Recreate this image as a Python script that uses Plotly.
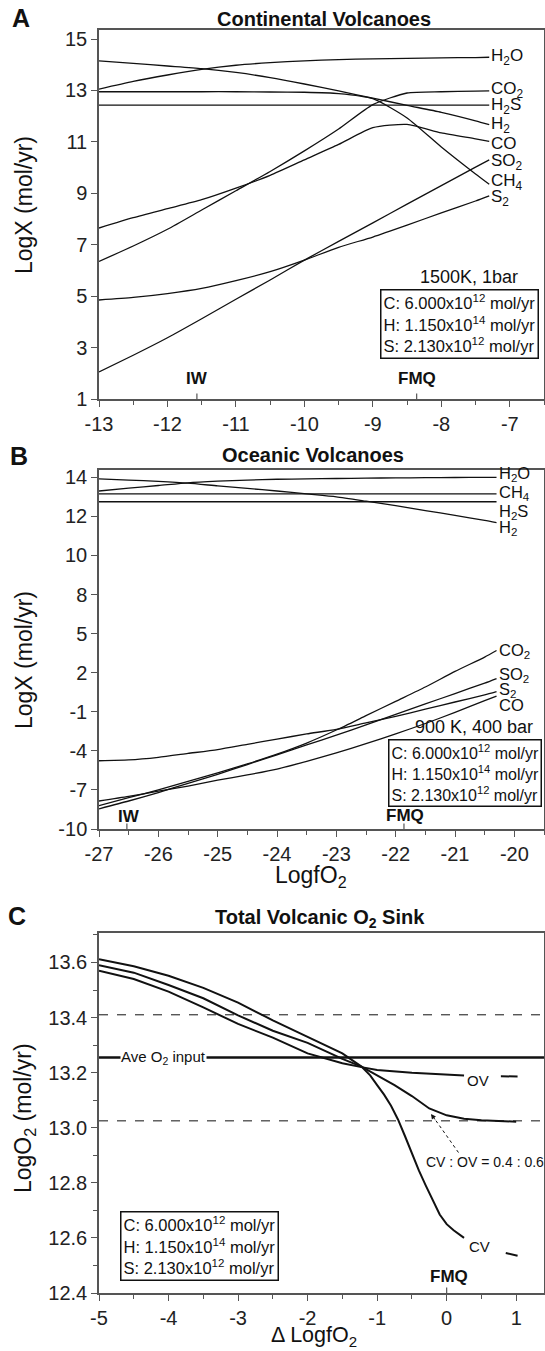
import plotly.graph_objects as go

FONT = "Liberation Sans, Arial, Helvetica, sans-serif"
W, H = 545, 1351
INK = "#111111"
AX = "#555555"

# ---------------- Panel A: Continental volcanoes (LogX vs LogfO2) ----------------
xa = [-13, -12.5, -12, -11.5, -11, -10.5, -10, -9.5, -9, -8.5, -8, -7.5, -7.3]
a_h2o = [13.05, 13.35, 13.6, 13.82, 13.98, 14.08, 14.15, 14.2, 14.23, 14.25, 14.27, 14.28, 14.29]
a_h2 = [14.15, 14.05, 13.95, 13.85, 13.7, 13.5, 13.25, 12.98, 12.7, 12.42, 12.15, 11.82, 11.67]
a_ch4 = [12.95, 12.95, 12.95, 12.95, 12.95, 12.94, 12.93, 12.88, 12.68, 11.93, 10.8, 9.75, 9.35]
a_h2s = [12.43, 12.43, 12.43, 12.43, 12.43, 12.43, 12.43, 12.43, 12.43, 12.43, 12.43, 12.43, 12.43]
a_co2 = [6.35, 6.95, 7.6, 8.35, 9.1, 9.85, 10.65, 11.5, 12.45, 12.9, 12.95, 12.97, 12.98]
a_co = [7.65, 8.05, 8.4, 8.75, 9.2, 9.7, 10.3, 10.9, 11.55, 11.68, 11.35, 11.12, 11.02]
a_so2 = [2.05, 2.7, 3.38, 4.12, 4.88, 5.63, 6.4, 7.13, 7.85, 8.58, 9.3, 10.02, 10.3]
a_s2 = [4.85, 4.95, 5.1, 5.3, 5.6, 5.95, 6.4, 6.9, 7.3, 7.76, 8.24, 8.7, 8.9]
a_series = [a_h2o, a_h2, a_ch4, a_h2s, a_co2, a_co, a_so2, a_s2]
a_labels = ["H<sub>2</sub>O", "CO<sub>2</sub>", "H<sub>2</sub>S", "H<sub>2</sub>", "CO",
            "SO<sub>2</sub>", "CH<sub>4</sub>", "S<sub>2</sub>"]
a_label_y = [14.3, 13.0, 12.4, 11.65, 10.95, 10.2, 9.45, 8.8]
a_xticks = [-13, -12, -11, -10, -9, -8, -7]
a_yticks = [1, 3, 5, 7, 9, 11, 13, 15]

# ---------------- Panel B: Oceanic volcanoes ----------------
xb = [-27, -26.5, -26, -25.5, -25, -24.5, -24, -23.5, -23, -22.5, -22, -21.5, -21, -20.5, -20.3]
b_h2o = [13.3, 13.45, 13.58, 13.72, 13.8, 13.86, 13.9, 13.92, 13.94, 13.96, 13.97, 13.98, 13.99, 14.0, 14.0]
b_h2 = [13.92, 13.86, 13.79, 13.7, 13.56, 13.43, 13.3, 13.15, 13.0, 12.78, 12.55, 12.3, 12.05, 11.8, 11.68]
b_ch4 = [13.15, 13.15, 13.15, 13.15, 13.15, 13.15, 13.15, 13.15, 13.15, 13.15, 13.15, 13.15, 13.15, 13.15, 13.15]
b_h2s = [12.75, 12.75, 12.75, 12.75, 12.75, 12.75, 12.75, 12.75, 12.75, 12.75, 12.75, 12.75, 12.75, 12.75, 12.75]
b_co2 = [-8.2, -7.6, -7.0, -6.35, -5.7, -5.0, -4.25, -3.4, -2.4, -1.3, -0.2, 0.9, 2.1, 3.2, 3.7]
b_so2 = [-8.45, -7.85, -7.2, -6.5, -5.8, -5.05, -4.3, -3.55, -2.8, -2.0, -1.2, -0.4, 0.4, 1.2, 1.55]
b_s2 = [-4.76, -4.7, -4.5, -4.2, -3.9, -3.5, -3.1, -2.7, -2.35, -1.85, -1.35, -0.8, -0.25, 0.3, 0.55]
b_co = [-7.85, -7.5, -7.1, -6.7, -6.25, -5.85, -5.4, -4.8, -4.15, -3.45, -2.7, -1.9, -1.05, -0.15, 0.2]
b_series = [b_h2o, b_h2, b_ch4, b_h2s, b_co2, b_so2, b_s2, b_co]
b_labels = ["H<sub>2</sub>O", "CH<sub>4</sub>", "H<sub>2</sub>S", "H<sub>2</sub>",
            "CO<sub>2</sub>", "SO<sub>2</sub>", "S<sub>2</sub>", "CO"]
b_label_y = [14.15, 13.2, 12.2, 11.4, 3.7, 1.85, 0.7, -0.45]
b_xticks = [-27, -26, -25, -24, -23, -22, -21, -20]
b_ytick_vals = [-10, -7, -4, -1, 2, 5, 8, 10, 12, 14]   # broken axis: evenly spaced labels


def b_pos(v):
    """Position on panel B's segmented y axis (3 units/tick below 8, 2 units/tick above)."""
    if v is None:
        return None
    return (v + 10) / 3.0 if v <= 8 else 6 + (v - 8) / 2.0


# ---------------- Panel C: Total volcanic O2 sink ----------------
xc_left = [-5, -4.5, -4, -3.5, -3, -2.5, -2, -1.5, -1.225]
c_cv_left = [13.612, 13.586, 13.552, 13.508, 13.454, 13.39, 13.33, 13.27, 13.222]
c_mix_left = [13.59, 13.563, 13.518, 13.47, 13.408, 13.352, 13.308, 13.25, 13.222]
c_ov_left = [13.57, 13.54, 13.494, 13.437, 13.377, 13.327, 13.27, 13.234, 13.22]
xc_cv_right = [-1.1, -1.0, -0.9, -0.8, -0.7, -0.6, -0.5, -0.4, -0.3, -0.2, -0.1, 0.0, 0.1, 0.25, None, 0.85, 1.02]
c_cv_right = [13.19, 13.155, 13.12, 13.08, 13.03, 12.97, 12.905, 12.845, 12.79, 12.735, 12.685, 12.65, 12.628, 12.6, None, 12.545, 12.535]
xc_mix_right = [-1.0, -0.75, -0.5, -0.25, 0.0, 0.25, 0.5, 0.75, 1.0]
c_mix_right = [13.19, 13.155, 13.115, 13.07, 13.045, 13.033, 13.027, 13.024, 13.022]
xc_ov_right = [-1.0, -0.5, 0.0, 0.25, None, 0.78, 1.02]
c_ov_right = [13.21, 13.2, 13.193, 13.19, None, 13.187, 13.186]
c_ave_input = 13.255
c_dashed = [13.41, 13.025]
c_xticks = [-5, -4, -3, -2, -1, 0, 1]
c_yticks = [12.4, 12.6, 12.8, 13.0, 13.2, 13.4, 13.6]

# ---------------- layout geometry (pixels) ----------------
LEFT, RIGHT = 99, 544
PANELS = {"A": (29.5, 399), "B": (469.5, 829), "C": (933, 1293)}


def ydom(top, bot):
    return [1 - bot / H, 1 - top / H]


def hyph(vals):
    return [str(v).replace("−", "-") for v in vals]


fig = go.Figure()
line_a = dict(color=INK, width=1.3)

for ys in a_series:
    fig.add_trace(go.Scatter(x=xa, y=ys, mode="lines", line=dict(shape="spline", smoothing=0.6, **line_a),
                             xaxis="x", yaxis="y", showlegend=False, hoverinfo="skip"))
for ys in b_series:
    fig.add_trace(go.Scatter(x=xb, y=[b_pos(v) for v in ys], mode="lines",
                             line=dict(shape="spline", smoothing=0.6, **line_a),
                             xaxis="x2", yaxis="y2", showlegend=False, hoverinfo="skip"))

line_c = dict(color=INK, width=2)
fig.add_trace(go.Scatter(x=xc_left + xc_cv_right, y=c_cv_left + c_cv_right, mode="lines", line=line_c,
                         xaxis="x3", yaxis="y3", showlegend=False, connectgaps=False, hoverinfo="skip"))
fig.add_trace(go.Scatter(x=xc_left + xc_mix_right, y=c_mix_left + c_mix_right, mode="lines", line=line_c,
                         xaxis="x3", yaxis="y3", showlegend=False, hoverinfo="skip"))
fig.add_trace(go.Scatter(x=xc_left + xc_ov_right, y=c_ov_left + c_ov_right, mode="lines", line=line_c,
                         xaxis="x3", yaxis="y3", showlegend=False, connectgaps=False, hoverinfo="skip"))

tickfont = dict(family=FONT, size=20, color="#222")
common = dict(showline=True, linecolor=AX, linewidth=1.5, mirror=True, ticks="outside", ticklen=6,
              tickwidth=1.3, tickcolor=AX, showgrid=False, zeroline=False, tickfont=tickfont)
minor_x = dict(dtick=0.5, ticks="outside", ticklen=4, tickwidth=1.2, tickcolor=AX, showgrid=False)

fig.update_layout(
    width=W, height=H, margin=dict(l=0, r=0, t=0, b=0, autoexpand=False),
    paper_bgcolor="white", plot_bgcolor="white", showlegend=False,
    font=dict(family=FONT, color=INK),
    xaxis=dict(domain=[LEFT / W, RIGHT / W], range=[-13, -6.5], tickvals=a_xticks, ticktext=hyph(a_xticks),
               minor=dict(tick0=-13, **minor_x), anchor="y", **common),
    yaxis=dict(domain=ydom(*PANELS["A"]), range=[1, 15.37], tickvals=a_yticks, anchor="x", **common),
    xaxis2=dict(domain=[LEFT / W, RIGHT / W], range=[-27, -19.5], tickvals=b_xticks, ticktext=hyph(b_xticks),
                minor=dict(tick0=-27, **minor_x), anchor="y2", **common),
    yaxis2=dict(domain=ydom(*PANELS["B"]), range=[0, 9.2], tickvals=[b_pos(v) for v in b_ytick_vals],
                ticktext=hyph(b_ytick_vals), anchor="x2", **common),
    xaxis3=dict(domain=[LEFT / W, RIGHT / W], range=[-5, 1.4], tickvals=c_xticks, ticktext=hyph(c_xticks),
                minor=dict(tick0=-5, **minor_x), anchor="y3", **common),
    yaxis3=dict(domain=ydom(*PANELS["C"]), range=[12.4, 13.707], tickvals=c_yticks,
                ticktext=[f"{v:.1f}" for v in c_yticks],
                minor=dict(tick0=12.4, dtick=0.1, ticks="outside", ticklen=4, tickwidth=1.2, tickcolor=AX,
                           showgrid=False), anchor="x3", **common),
)

ann = []
shapes = []


def txt(x, y, text, size, xref="paper", yref="paper", bold=False, **kw):
    t = f"<b>{text}</b>" if bold else text
    d = dict(x=x, y=y, xref=xref, yref=yref, text=t, showarrow=False, xanchor="center", yanchor="middle",
             font=dict(family=FONT, size=size, color=INK))
    d.update(kw)
    ann.append(d)


def px(xpix):
    return xpix / W


def py(ypix):
    return 1 - ypix / H


# Panel letters and titles
txt(px(21), py(18), "A", 25, bold=True)
txt(px(19), py(456), "B", 25, bold=True)
txt(px(17), py(916), "C", 25, bold=True)
txt(px(324), py(19), "Continental Volcanoes", 20, bold=True)
txt(px(313), py(455), "Oceanic Volcanoes", 20, bold=True)
txt(px(320), py(918), "Total Volcanic O<sub>2</sub> Sink", 20, bold=True)

# Axis titles
txt(px(24), py(205), "LogX (mol/yr)", 23, textangle=-90)
txt(px(24), py(660), "LogX (mol/yr)", 23, textangle=-90)
txt(px(24), py(1118), "LogO<sub>2</sub> (mol/yr)", 23, textangle=-90)
txt(px(311), py(876), "LogfO<sub>2</sub>", 23)
txt(px(314), py(1336), "Δ LogfO<sub>2</sub>", 21.5)

# Species labels
for lab, yv in zip(a_labels, a_label_y):
    txt(-7.3, yv, lab, 17, xref="x", yref="y", xanchor="left")
for lab, yv in zip(b_labels, b_label_y):
    txt(-20.3, b_pos(yv), lab, 16.5, xref="x2", yref="y2", xanchor="left")

box_text = ("C: 6.000x10<sup>12</sup> mol/yr<br>H: 1.150x10<sup>14</sup> mol/yr<br>"
            "S: 2.130x10<sup>12</sup> mol/yr")
boxstyle = dict(align="left", bordercolor=INK, borderwidth=1.5, borderpad=2, bgcolor="white")

# Panel A notes
txt(-7.6, 5.76, "1500K, 1bar", 18, xref="x", yref="y")
txt(-6.58, 3.9, box_text, 16.5, xref="x", yref="y", xanchor="right", **boxstyle)
txt(-11.57, 1.8, "IW", 17, xref="x", yref="y", bold=True)
txt(-8.36, 1.8, "FMQ", 17, xref="x", yref="y", bold=True)
for xv in (-11.57, -8.36):
    shapes.append(dict(type="line", xref="x", yref="y domain", x0=xv, x1=xv, y0=0, y1=0.015,
                       line=dict(color=AX, width=1.2)))

# Panel B notes
txt(-20.68, b_pos(-2.2), "900 K, 400 bar", 18, xref="x2", yref="y2")
txt(-19.53, b_pos(-5.7), box_text, 16, xref="x2", yref="y2", xanchor="right", **boxstyle)
txt(-26.5, b_pos(-9.05), "IW", 17, xref="x2", yref="y2", bold=True)
txt(-21.85, b_pos(-9.0), "FMQ", 17, xref="x2", yref="y2", bold=True)
for xv in (-26.53, -21.86):
    shapes.append(dict(type="line", xref="x2", yref="y2 domain", x0=xv, x1=xv, y0=0, y1=0.015,
                       line=dict(color=AX, width=1.2)))

# Panel C notes
for yv in c_dashed:
    shapes.append(dict(type="line", xref="x3 domain", yref="y3", x0=0, x1=1, y0=yv, y1=yv,
                       line=dict(color=INK, width=1, dash="dash")))
shapes.append(dict(type="line", xref="x3 domain", yref="y3", x0=0, x1=1, y0=c_ave_input, y1=c_ave_input,
                   line=dict(color=INK, width=2.5)))
txt(-4.07, c_ave_input, "Ave O<sub>2</sub> input", 15, xref="x3", yref="y3", bgcolor="white", borderpad=0)
txt(0.45, 13.172, "OV", 15, xref="x3", yref="y3")
txt(0.47, 12.57, "CV", 15, xref="x3", yref="y3")
txt(0.55, 12.877, "CV : OV = 0.4 : 0.6", 14, xref="x3", yref="y3")
shapes.append(dict(type="line", xref="x3", yref="y3", x0=0.17, y0=12.91, x1=-0.2, y1=13.042,
                   line=dict(color=INK, width=1, dash="dot")))
ann.append(dict(x=-0.225, y=13.05, xref="x3", yref="y3", ax=5, ay=7, axref="pixel", ayref="pixel",
                text="", showarrow=True, arrowhead=2, arrowsize=1, arrowwidth=1, arrowcolor=INK))
txt(-4.7, 12.57, box_text, 16.5, xref="x3", yref="y3", xanchor="left", **boxstyle)
txt(0.03, 12.46, "FMQ", 17, xref="x3", yref="y3", bold=True)
shapes.append(dict(type="line", xref="x3", yref="y3 domain", x0=0, x1=0, y0=0, y1=0.015,
                   line=dict(color=AX, width=1.2)))

fig.update_layout(annotations=ann, shapes=shapes)
fig.write_html("out.html", config={"displayModeBar": False},
               post_script="document.body.style.margin='0';document.body.style.overflow='hidden';")
